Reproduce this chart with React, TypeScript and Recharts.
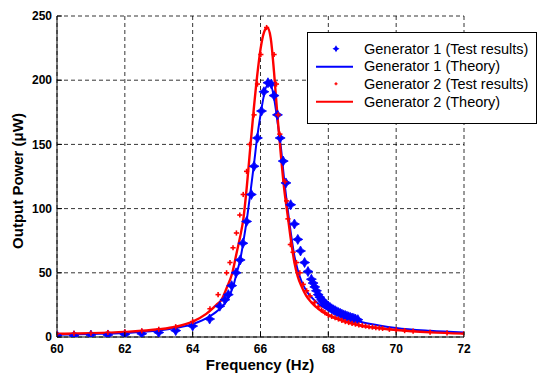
import React from 'react'
import { ComposedChart, Line, Scatter, XAxis, YAxis, CartesianGrid, Legend } from 'recharts'

const xTicks = [60, 62, 64, 66, 68, 70, 72]
const yTicks = [0, 50, 100, 150, 200, 250]
const seriesNames = ['Generator 1 (Test results)', 'Generator 1 (Theory)', 'Generator 2 (Test results)', 'Generator 2 (Theory)']

// generator 1, measured
const g1TestHz = [60, 60.5, 61, 61.5, 62, 62.5, 63, 63.5, 64, 64.5, 64.8, 64.95, 65.05, 65.15, 65.28, 65.4, 65.48, 65.59, 65.73, 65.81, 65.91, 66.03, 66.1, 66.22, 66.32, 66.4, 66.5, 66.58, 66.67, 66.75, 66.89, 67.0, 67.1, 67.18, 67.3, 67.4, 67.5, 67.55, 67.6, 67.65, 67.7, 67.75, 67.8, 67.85, 67.9, 67.95, 68.0, 68.05, 68.1, 68.15, 68.2, 68.25, 68.3, 68.35, 68.4, 68.45, 68.5, 68.55, 68.6, 68.65, 68.7, 68.75, 68.8, 68.87]
const g1TestUw = [1.2, 1, 1.5, 1.6, 2, 2.5, 3.5, 5, 8.5, 14, 24, 29, 33, 40, 50, 60, 73, 90, 111, 133, 155, 176, 191, 198, 197, 188, 173, 155, 137, 120, 103, 88, 76, 67, 58, 51, 45, 42, 39, 36, 33, 31, 29, 27.5, 26, 25, 24, 23, 22, 21.2, 20.5, 19.7, 19, 18.4, 17.8, 17.2, 16.7, 16.2, 15.7, 15.2, 14.8, 14.4, 14, 13.5]

// generator 1, theory
const g1TheoryHz = [60, 61, 62, 63, 63.5, 64, 64.5, 64.8, 65.0, 65.2, 65.3, 65.4, 65.5, 65.6, 65.7, 65.8, 65.9, 66.0, 66.1, 66.2, 66.3, 66.4, 66.5, 66.6, 66.7, 66.8, 66.9, 67.0, 67.1, 67.2, 67.35, 67.5, 67.75, 68.0, 68.5, 69, 69.5, 70, 71, 72]
const g1TheoryUw = [1.8, 2.4, 3.2, 5, 7, 10, 16, 22, 28, 40, 50, 60, 75, 92, 112, 133, 155, 173, 188, 196, 196, 186, 168, 148, 122, 100, 80, 63, 52, 44, 36, 31, 25, 21, 15, 11.5, 9, 7, 4.8, 3.5]

// generator 2, measured
const g2TestHz = [60, 60.5, 61, 61.5, 62, 62.5, 63, 63.5, 64, 64.51, 64.75, 65.0, 65.1, 65.19, 65.29, 65.39, 65.49, 65.59, 65.68, 65.81, 65.91, 66.01, 66.18, 66.4, 66.47, 66.52, 66.57, 66.72, 66.77, 66.81, 66.88, 66.96, 67.06, 67.16, 67.26, 67.36, 67.46, 67.6, 67.7, 67.8, 67.9, 68.0, 68.1, 68.2, 68.3, 68.4, 68.5, 68.6, 68.7, 68.8, 68.9, 69.0, 69.1, 69.2, 69.3, 69.4, 69.5, 69.6, 69.8, 70.0, 70.25, 70.5, 71.0, 71.5, 72.0]
const g2TestUw = [2.5, 2.8, 3, 3.5, 4, 4.8, 6, 8, 12, 22, 33, 50, 58, 69.5, 81, 95, 111, 129, 150, 173, 197, 220, 241, 220, 197, 173, 158, 121, 106, 92, 72, 66, 58, 50, 41, 36, 32, 27, 23.5, 21, 19, 17, 16, 15, 14, 13, 12, 11.3, 10.6, 10, 9.5, 9, 8.5, 8, 7.7, 7.3, 7, 6.7, 6, 5.5, 5, 4.5, 3.7, 3.2, 2.6]

// generator 2, theory
const g2TheoryHz = [60, 61, 62, 63, 63.5, 64, 64.4, 64.7, 64.85, 65.0, 65.17, 65.3, 65.4, 65.5, 65.6, 65.7, 65.8, 65.9, 66.0, 66.1, 66.2, 66.3, 66.4, 66.5, 66.6, 66.7, 66.8, 66.9, 67.0, 67.1, 67.2, 67.35, 67.5, 67.75, 68.0, 68.5, 69, 69.5, 70, 71, 72]
const g2TheoryUw = [2.5, 3, 4, 6, 8, 12, 18, 25, 29, 38, 50, 66, 78, 93, 118, 148, 177, 203, 224, 237, 241, 233, 206, 172, 142, 115, 95, 75, 58, 47, 40, 32, 27, 21, 17, 12, 8.5, 6.8, 5.4, 3.6, 2.6]

const zip = (hz: number[], uw: number[]) => hz.map((f, i) => ({ f, p: uw[i] }))
const g1Test = zip(g1TestHz, g1TestUw)
const g1Theory = zip(g1TheoryHz, g1TheoryUw)
const g2Test = zip(g2TestHz, g2TestUw)
const g2Theory = zip(g2TheoryHz, g2TheoryUw)

const BLUE = '#0000ff'
const RED = '#ff0000'
const FONT = '"Liberation Sans", Arial, Helvetica, sans-serif'

const star = (cx: number, cy: number, r: number, k: number) =>
  `M${cx},${cy - r}L${cx + k},${cy - k}L${cx + r},${cy}L${cx + k},${cy + k}L${cx},${cy + r}L${cx - k},${cy + k}L${cx - r},${cy}L${cx - k},${cy - k}Z`

const BlueStar = (props: any) => <path d={star(props.cx, props.cy, 5, 1.8)} fill={BLUE} stroke={BLUE} strokeWidth={0.8} />
const RedPlus = (props: any) => (
  <g stroke={RED} strokeWidth={1.6}>
    <line x1={props.cx - 2.6} y1={props.cy} x2={props.cx + 2.6} y2={props.cy} />
    <line x1={props.cx} y1={props.cy - 2.6} x2={props.cx} y2={props.cy + 2.6} />
  </g>
)

// bottom / left ticks: label plus a short inward tick mark
const XTick = (props: any) => {
  const { x, y, payload } = props
  const axisY = y - 7
  return (
    <g>
      <line x1={x} y1={axisY} x2={x} y2={axisY - 5} stroke="#000" />
      <text x={x} y={y} dy="0.71em" textAnchor="middle" fontFamily={FONT} fontWeight="bold" fontSize={12} fill="#000">{payload.value}</text>
    </g>
  )
}
const YTick = (props: any) => {
  const { x, y, payload } = props
  const axisX = x + 5
  return (
    <g>
      <line x1={axisX} y1={y} x2={axisX + 5} y2={y} stroke="#000" />
      <text x={x} y={y} dy="0.355em" textAnchor="end" fontFamily={FONT} fontWeight="bold" fontSize={12} fill="#000">{payload.value}</text>
    </g>
  )
}

const LegendBox = () => {
  const icons = [
    <path d={star(28, 8.8, 3.5, 1.3)} fill={BLUE} />,
    <line x1={8} y1={8.8} x2={45} y2={8.8} stroke={BLUE} strokeWidth={2} />,
    <g stroke={RED} strokeWidth={1.3}><line x1={26.5} y1={8.8} x2={29.5} y2={8.8} /><line x1={28} y1={7.3} x2={28} y2={10.3} /></g>,
    <line x1={8} y1={8.8} x2={45} y2={8.8} stroke={RED} strokeWidth={2} />,
  ]
  return (
    <div style={{ width: 228, height: 83, border: '1px solid #000', background: '#fff', paddingTop: 7, boxSizing: 'content-box' }}>
      {seriesNames.map((n, i) => (
        <div key={n} style={{ display: 'flex', alignItems: 'center', height: 17.6 }}>
          <svg width={56} height={17.6} style={{ flex: 'none' }}>{icons[i]}</svg>
          <span style={{ fontFamily: FONT, fontSize: 14.5, color: '#000', whiteSpace: 'nowrap' }}>{n}</span>
        </div>
      ))}
    </div>
  )
}

export default function App() {
  return (
    <div style={{ position: 'absolute', left: 0, top: 0, width: 538, height: 374, background: '#fff' }}>
      <ComposedChart width={538} height={374} margin={{ top: 16, right: 74, bottom: 17, left: 17 }}>
        <CartesianGrid stroke="#000" strokeDasharray="4 3" strokeWidth={0.8} />
        <XAxis dataKey="f" type="number" domain={[60, 72]} ticks={xTicks} allowDataOverflow height={20}
          tickSize={0} tickMargin={7} tickLine={false} tick={<XTick />} axisLine={{ stroke: '#000' }} />
        <XAxis xAxisId="top" orientation="top" type="number" domain={[60, 72]} ticks={xTicks} allowDataOverflow height={0}
          mirror tick={false} tickSize={5} tickLine={{ stroke: '#000' }} axisLine={{ stroke: '#000' }} />
        <YAxis dataKey="p" type="number" domain={[0, 250]} ticks={yTicks} allowDataOverflow width={40}
          tickSize={0} tickMargin={5} tickLine={false} tick={<YTick />} axisLine={{ stroke: '#000' }} />
        <YAxis yAxisId="right" orientation="right" type="number" domain={[0, 250]} ticks={yTicks} allowDataOverflow width={0}
          mirror tick={false} tickSize={5} tickLine={{ stroke: '#000' }} axisLine={{ stroke: '#000' }} />
        <Legend layout="vertical" align="center" verticalAlign="middle" content={<LegendBox />}
          wrapperStyle={{ left: 307, top: 32, width: 230, height: 91 }} />
        <Scatter name={seriesNames[0]} data={g1Test} dataKey="p" shape={<BlueStar />} isAnimationActive={false} />
        <Line name={seriesNames[1]} data={g1Theory} dataKey="p" type="monotone" stroke={BLUE} strokeWidth={2} dot={false} isAnimationActive={false} />
        <Scatter name={seriesNames[2]} data={g2Test} dataKey="p" shape={<RedPlus />} isAnimationActive={false} />
        <Line name={seriesNames[3]} data={g2Theory} dataKey="p" type="monotone" stroke={RED} strokeWidth={2.4} dot={false} isAnimationActive={false} />
      </ComposedChart>
      <div style={{ position: 'absolute', left: 205, top: 356, width: 110, textAlign: 'center', fontFamily: FONT, fontWeight: 'bold', fontSize: 15, whiteSpace: 'nowrap' }}>
        Frequency (Hz)
      </div>
      <div style={{ position: 'absolute', left: 17, top: 181, transform: 'translate(-50%, -50%) rotate(-90deg)', fontFamily: FONT, fontWeight: 'bold', fontSize: 15, whiteSpace: 'nowrap' }}>
        Output Power (μW)
      </div>
    </div>
  )
}
